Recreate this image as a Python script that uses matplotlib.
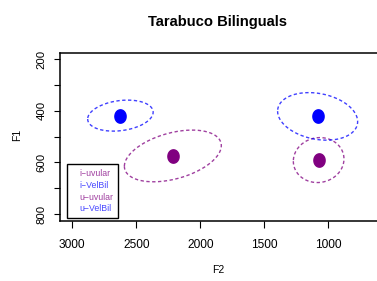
import numpy as np
import matplotlib
matplotlib.use("Agg")
import matplotlib.pyplot as plt
from matplotlib.path import Path
from matplotlib.lines import Line2D

plt.rcParams['font.family'] = ['Liberation Sans', 'DejaVu Sans']

# ---- data ----
labels = ['i\u2212uvular', 'i\u2212VelBil', 'u\u2212uvular', 'u\u2212VelBil']
f2_mean = [2214, 2624, 1074, 1082]
f1_mean = [575, 419, 591, 422]
f2_sd = [379, 256, 198, 313]
f1_sd = [100, 60, 87, 92]
corr = [0.40, 0.22, 0.05, -0.22]
colors = ['#800080', '#0000FF', '#800080', '#0000FF']
legend_colors = ['#A040A0', '#4848FF', '#A040A0', '#4848FF']
xticks = [3000, 2500, 2000, 1500, 1000]
yticks = [200, 300, 400, 500, 600, 700, 800]
yticklabels = ['200', '', '400', '', '600', '', '800']

W, H = 377, 281
fig = plt.figure(figsize=(W / 100, H / 100), dpi=100)
ax = fig.add_axes([60.3 / W, 60 / H, (378.5 - 60.3) / W, (221 - 52.7) / H])

ax.set_xlim(3094, 606)
ax.set_ylim(826.7, 175.6)

# ellipse marker (slightly taller than wide)
tt = np.linspace(0, 2 * np.pi, 60)
marker = Path(np.column_stack([0.84 * np.cos(tt), np.sin(tt)]))

t = np.linspace(0, 2 * np.pi, 300)
for mx, my, sx, sy, r, c in zip(f2_mean, f1_mean, f2_sd, f1_sd, corr, colors):
    ex = mx + sx * np.cos(t)
    ey = my + sy * (r * np.cos(t) + np.sqrt(1 - r * r) * np.sin(t))
    ax.plot(ex, ey, color=c, alpha=0.75, lw=1.0, dashes=(2.4, 1.8))
    ax.plot([mx], [my], marker=marker, color=c, markersize=9.6, linestyle='none')

ax.set_xticks(xticks)
ax.set_xticklabels([str(v) for v in xticks])
ax.set_yticks(yticks)
ax.set_yticklabels(yticklabels, rotation=90, va='center')
ax.tick_params(axis='x', length=5, width=0.8, pad=8, labelsize=8.6)
ax.tick_params(axis='y', length=4.2, width=0.8, pad=5.5, labelsize=8.2)
for s in ax.spines.values():
    s.set_linewidth(1.1)

fig.text(218 / W, 1 - 270 / H, 'F2', ha='center', va='center', fontsize=7.5)
fig.text(17 / W, 1 - 135 / H, 'F1', ha='center', va='center', fontsize=7.5, rotation=90)
fig.text(217 / W, 1 - 22 / H, 'Tarabuco Bilinguals', ha='center', va='center',
         fontsize=10.6, fontweight='bold')

handles = [Line2D([], [], linestyle='none') for _ in labels]
leg = ax.legend(handles, labels, loc='lower left',
                bbox_to_anchor=((66.7 - 60.3) / 318, (221 - 218.3) / 168.3),
                fontsize=6.3, frameon=True, fancybox=False, framealpha=1,
                edgecolor='black', handlelength=0.7, handletextpad=0.2,
                labelspacing=0.32, borderpad=0.55, borderaxespad=0)
leg.get_frame().set_linewidth(1.0)
for txt, c in zip(leg.get_texts(), legend_colors):
    txt.set_color(c)

fig.savefig('out.png', dpi=100)
